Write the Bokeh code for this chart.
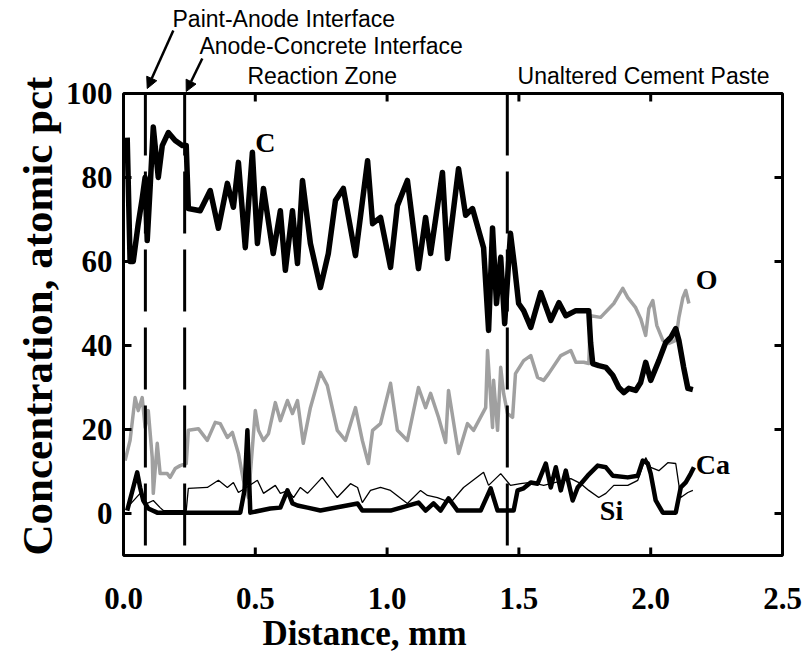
from bokeh.plotting import figure
from bokeh.models import (Range1d, Label, Arrow, NormalHead, FixedTicker, PrintfTickFormatter, Title)
from bokeh.embed import file_html
from bokeh.resources import INLINE

# ---- data (distance mm, atomic pct) ----
c_x = [0.014, 0.025, 0.037, 0.056, 0.071, 0.082, 0.090, 0.101, 0.113, 0.132, 0.147, 0.170, 0.196, 0.223,
       0.238, 0.246, 0.291, 0.329, 0.360, 0.394, 0.417, 0.436, 0.462, 0.489, 0.508, 0.531, 0.568, 0.595,
       0.614, 0.641, 0.660, 0.679, 0.709, 0.747, 0.777, 0.804, 0.834, 0.880, 0.926, 0.945, 0.975, 1.013,
       1.039, 1.077, 1.119, 1.146, 1.165, 1.210, 1.229, 1.271, 1.298, 1.324, 1.366, 1.385, 1.400, 1.415,
       1.431, 1.446, 1.468, 1.484, 1.499, 1.518, 1.545, 1.583, 1.621, 1.652, 1.678, 1.716, 1.765, 1.772,
       1.780, 1.803, 1.830, 1.856, 1.879, 1.898, 1.917, 1.943, 1.962, 1.981, 2.000, 2.031, 2.057, 2.076,
       2.095, 2.107, 2.125, 2.141, 2.160]
c_y = [89.5, 60.0, 60.0, 69.0, 75.0, 80.0, 65.0, 77.6, 92.0, 80.0, 87.6, 90.7, 88.8, 87.6,
       87.6, 72.6, 72.1, 76.9, 67.9, 78.6, 72.9, 83.6, 63.3, 86.0, 64.3, 77.4, 61.9, 72.1,
       57.9, 72.1, 59.5, 79.3, 64.3, 53.8, 61.9, 74.5, 77.4, 61.4, 84.0, 69.0, 70.5, 58.6,
       73.3, 79.3, 58.3, 70.5, 61.9, 81.2, 60.7, 82.1, 71.0, 72.6, 63.3, 43.6, 68.0, 50.0,
       61.0, 45.2, 66.7, 58.6, 50.0, 48.3, 44.3, 52.6, 46.0, 50.2, 47.1, 48.3, 48.3, 40.7,
       35.7, 35.2, 34.8, 32.9, 30.0, 28.8, 29.8, 29.3, 31.2, 36.0, 31.7, 36.4, 40.7, 41.9,
       44.0, 41.2, 34.8, 29.8, 29.5]

o_x = [0.006, 0.025, 0.044, 0.056, 0.071, 0.082, 0.094, 0.109, 0.113, 0.128, 0.139, 0.166, 0.177, 0.196,
       0.215, 0.238, 0.246, 0.284, 0.318, 0.348, 0.367, 0.394, 0.413, 0.436, 0.455, 0.474, 0.500, 0.512,
       0.531, 0.550, 0.576, 0.595, 0.622, 0.641, 0.660, 0.682, 0.709, 0.747, 0.773, 0.811, 0.842, 0.880,
       0.906, 0.929, 0.945, 0.975, 1.013, 1.039, 1.077, 1.119, 1.146, 1.165, 1.195, 1.222, 1.233, 1.271,
       1.305, 1.328, 1.374, 1.381, 1.400, 1.404, 1.419, 1.431, 1.442, 1.457, 1.476, 1.487, 1.518, 1.545,
       1.571, 1.594, 1.613, 1.659, 1.697, 1.716, 1.746, 1.765, 1.772, 1.810, 1.860, 1.894, 1.913, 1.943,
       1.962, 1.981, 1.993, 2.008, 2.023, 2.046, 2.069, 2.095, 2.107, 2.122, 2.133, 2.145]
o_y = [12.6, 17.4, 27.6, 24.5, 27.6, 20.5, 24.5, 13.3, 4.8, 16.7, 9.5, 9.5, 8.6, 10.7,
       11.4, 11.9, 19.8, 20.2, 17.4, 21.7, 21.4, 18.1, 19.3, 14.3, 7.9, 3.8, 24.5, 19.8,
       17.4, 19.0, 26.4, 22.1, 26.9, 23.8, 26.9, 16.7, 25.2, 33.6, 30.5, 19.8, 17.4, 25.2,
       17.4, 11.9, 19.8, 21.4, 31.0, 19.8, 17.4, 30.0, 25.2, 28.6, 22.9, 16.9, 29.3, 14.3,
       21.4, 19.8, 25.2, 38.8, 20.5, 31.7, 19.8, 34.8, 28.6, 23.8, 22.9, 33.3, 36.4, 37.6,
       32.4, 31.7, 33.3, 37.6, 38.8, 36.0, 36.0, 35.7, 47.1, 46.7, 50.0, 53.6, 51.4, 49.0,
       46.4, 42.4, 48.8, 50.7, 44.8, 41.2, 40.5, 41.2, 46.7, 51.4, 53.1, 50.0]

ca_x = [0.014, 0.037, 0.052, 0.063, 0.075, 0.094, 0.128, 0.443, 0.459, 0.470, 0.481, 0.557, 0.595, 0.622,
        0.641, 0.660, 0.698, 0.747, 0.888, 0.906, 1.013, 1.119, 1.146, 1.176, 1.203, 1.233, 1.267, 1.355,
        1.393, 1.419, 1.480, 1.495, 1.518, 1.545, 1.571, 1.602, 1.621, 1.640, 1.659, 1.678, 1.704, 1.723,
        1.761, 1.799, 1.830, 1.856, 1.913, 1.951, 1.970, 1.989, 2.000, 2.019, 2.046, 2.095, 2.114, 2.133,
        2.152, 2.164]
ca_y = [0.7, 6.2, 9.8, 6.2, 3.1, 1.2, 0.2, 0.2, 5.5, 19.8, 0.2, 1.2, 1.4, 5.5,
        2.4, 1.9, 1.4, 0.7, 2.4, 0.7, 0.7, 2.6, 0.7, 2.4, 0.7, 3.6, 0.7, 0.7,
        6.0, 0.7, 0.7, 5.5, 6.0, 7.4, 7.1, 11.9, 6.2, 11.0, 5.5, 10.2, 3.1, 6.2,
        9.0, 11.4, 11.0, 9.0, 8.6, 9.0, 12.6, 11.9, 9.5, 3.1, 0.2, 0.2, 6.2, 7.4,
        9.5, 11.0]

si_x = [0.014, 0.063, 0.090, 0.113, 0.139, 0.151, 0.238, 0.246, 0.318, 0.360, 0.394, 0.417, 0.436, 0.508,
        0.531, 0.576, 0.595, 0.625, 0.645, 0.671, 0.698, 0.754, 0.811, 0.861, 0.888, 0.906, 0.937, 0.975,
        1.013, 1.077, 1.127, 1.153, 1.191, 1.241, 1.290, 1.366, 1.385, 1.431, 1.468, 1.506, 1.545, 1.594,
        1.697, 1.735, 1.765, 1.803, 1.830, 1.860, 1.913, 1.951, 1.981, 2.000, 2.031, 2.065, 2.095, 2.114,
        2.141, 2.160]
si_y = [1.4, 4.8, 2.4, 3.1, 1.4, 0.7, 0.7, 6.0, 6.2, 7.9, 6.2, 7.4, 5.0, 7.9,
        4.8, 6.7, 4.8, 5.5, 3.8, 6.2, 4.8, 8.6, 3.8, 7.1, 6.2, 2.6, 5.5, 6.2,
        5.5, 2.4, 5.5, 4.3, 3.8, 2.6, 6.2, 9.8, 6.7, 9.5, 6.7, 7.1, 7.4, 6.7,
        8.3, 7.1, 5.5, 3.8, 4.8, 6.7, 6.7, 7.9, 13.3, 11.0, 10.2, 12.1, 11.9, 3.8,
        5.0, 5.5]

interfaces = [0.083, 0.232, 1.456]
x_ticks = [0.0, 0.5, 1.0, 1.5, 2.0, 2.5]
y_ticks = [0, 20, 40, 60, 80, 100]
x_lim = (0.0, 2.5)
y_lim = (-10.0, 100.0)

SERIF = "Liberation Serif"
SANS = "Liberation Sans"

W, H = 806, 658
BL, BR, BB = 121, 22, 101          # borders (px)
FRAME_TOP_PX = 93                    # where y=100 sits on the canvas
PAD = 2.0                            # px of room round the drawn box
frame_h = H - BB
frame_w = W - BL - BR
y_per_px = (y_lim[1] - y_lim[0]) / (frame_h - PAD - FRAME_TOP_PX)
x_per_px = (x_lim[1] - x_lim[0]) / (frame_w - 2 * PAD)
y_lo = y_lim[0] - PAD * y_per_px
y_hi = y_lim[1] + FRAME_TOP_PX * y_per_px
x_lo = x_lim[0] - PAD * x_per_px
x_hi = x_lim[1] + PAD * x_per_px

p = figure(width=W, height=H, output_backend="svg", toolbar_location=None,
           x_range=Range1d(x_lo, x_hi), y_range=Range1d(y_lo, y_hi),
           min_border_left=BL, min_border_right=BR, min_border_top=0, min_border_bottom=BB)
p.grid.visible = False
p.background_fill_color = "white"
p.border_fill_color = "white"
p.outline_line_color = None

for ax in (p.xaxis[0], p.yaxis[0]):
    ax.axis_line_color = None
    ax.major_tick_in = 0
    ax.major_tick_out = 0
    ax.minor_tick_line_color = None
    ax.major_label_text_font = SERIF
    ax.major_label_text_font_style = "bold"
    ax.major_label_text_font_size = "31px"
    ax.major_label_text_color = "black"

p.xaxis.ticker = FixedTicker(ticks=x_ticks)
p.xaxis.formatter = PrintfTickFormatter(format="%.1f")
p.yaxis.ticker = FixedTicker(ticks=y_ticks)
p.xaxis.major_label_standoff = 30
p.yaxis.major_label_standoff = 9

p.add_layout(Title(text="Distance, mm", align="left", offset=141, text_font=SERIF,
                   text_font_style="bold", text_font_size="35px", text_color="black",
                   standoff=0), "below")
p.add_layout(Title(text="Concentration, atomic pct", align="left", offset=2, text_font=SERIF,
                   text_font_style="bold", text_font_size="43px", text_color="black",
                   standoff=4), "left")

# series
p.line(o_x, o_y, line_color="#a0a0a0", line_width=3.5, line_join="round")
p.line(si_x, si_y, line_color="black", line_width=1.3)
p.line(ca_x, ca_y, line_color="black", line_width=4.5, line_join="round")
p.line(c_x, c_y, line_color="black", line_width=5.5, line_join="round")

# interface lines (dashed, drawn from the top of the box downwards)
p.segment(x0=interfaces, y0=[y_lim[1]] * len(interfaces), x1=interfaces,
          y1=[y_lim[0]] * len(interfaces), line_color="black", line_width=3, line_dash="62 16")

# plot box and inward ticks on all four sides
p.quad(left=[x_lim[0]], right=[x_lim[1]], bottom=[y_lim[0]], top=[y_lim[1]],
       fill_color=None, line_color="black", line_width=3)
tick_len = 8
inner_x = [t for t in x_ticks if x_lim[0] < t < x_lim[1]]
inner_y = [t for t in y_ticks if y_lim[0] < t < y_lim[1]]
p.segment(x0=inner_x, y0=[y_lim[0]] * len(inner_x), x1=inner_x,
          y1=[y_lim[0] + tick_len * y_per_px] * len(inner_x), line_color="black", line_width=3)
p.segment(x0=inner_x, y0=[y_lim[1]] * len(inner_x), x1=inner_x,
          y1=[y_lim[1] - tick_len * y_per_px] * len(inner_x), line_color="black", line_width=3)
p.segment(x0=[x_lim[0]] * len(inner_y), y0=inner_y, x1=[x_lim[0] + tick_len * x_per_px] * len(inner_y),
          y1=inner_y, line_color="black", line_width=3)
p.segment(x0=[x_lim[1]] * len(inner_y), y0=inner_y, x1=[x_lim[1] - tick_len * x_per_px] * len(inner_y),
          y1=inner_y, line_color="black", line_width=3)

# series labels
for txt, x, y in [("C", 0.50, 88.3), ("O", 2.171, 55.7), ("Ca", 2.171, 11.7), ("Si", 1.807, 0.7)]:
    p.add_layout(Label(x=x, y=y, text=txt, text_font=SERIF, text_font_style="bold",
                       text_font_size="28px", text_baseline="middle", text_align="left",
                       text_color="black"))

# annotations above the box (canvas rows converted to data)
def row(px):
    return y_lim[1] + (FRAME_TOP_PX - px) * y_per_px

for txt, x, r in [("Paint-Anode Interface", 0.186, 18),
                  ("Anode-Concrete Interface", 0.288, 45),
                  ("Reaction Zone", 0.470, 75),
                  ("Unaltered Cement Paste", 1.495, 75)]:
    p.add_layout(Label(x=x, y=row(r), text=txt, text_font=SANS, text_font_size="23px",
                       text_baseline="middle", text_align="left", text_color="black"))

for xs, rs, xe, re_ in [(0.189, 30, 0.090, 88), (0.299, 58, 0.238, 91)]:
    p.add_layout(Arrow(end=NormalHead(size=11, fill_color="black", line_color="black"),
                       x_start=xs, y_start=row(rs), x_end=xe, y_end=row(re_), line_width=2.5,
                       line_color="black"))

open("out.html", "w").write(file_html(p, INLINE))
